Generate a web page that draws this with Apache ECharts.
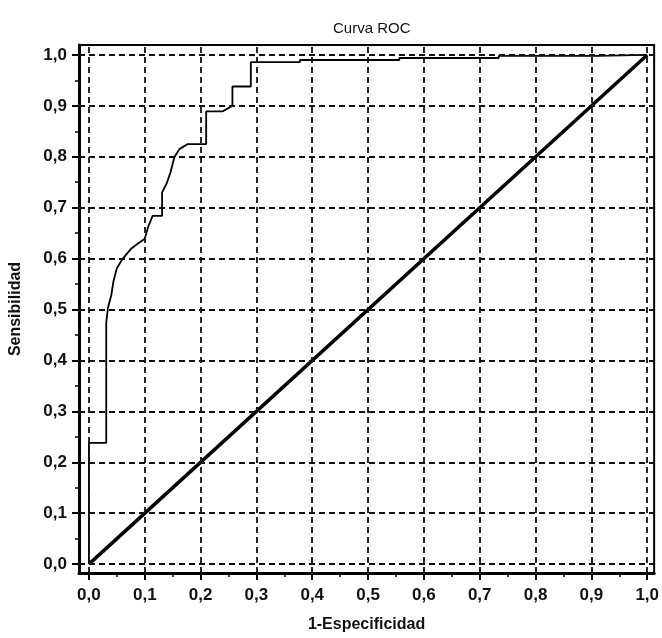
<!DOCTYPE html>
<html>
<head>
<meta charset="utf-8">
<script src="https://cdn.jsdelivr.net/npm/echarts@6/dist/echarts.min.js"></script>
<style>
  html, body { margin: 0; padding: 0; background: #fff; }
  #chart { width: 662px; height: 638px; }
</style>
</head>
<body>
<div id="chart"></div>
<script>
const chart = echarts.init(document.getElementById('chart'));

// ROC-Kurve (1-Spezifität, Sensitivität)
const fpr = [0, 0, 0.031, 0.031, 0.034, 0.034, 0.040, 0.044, 0.050, 0.060,
             0.076, 0.086, 0.100, 0.106, 0.114, 0.131, 0.131, 0.139, 0.146, 0.153,
             0.162, 0.177, 0.210, 0.210, 0.239, 0.257, 0.257, 0.290, 0.290, 0.378,
             0.378, 0.556, 0.556, 0.734, 0.734, 0.911, 0.911, 1.0];
const tpr = [0, 0.238, 0.238, 0.474, 0.474, 0.503, 0.528, 0.556, 0.581, 0.599,
             0.620, 0.628, 0.639, 0.662, 0.684, 0.684, 0.730, 0.747, 0.769, 0.799,
             0.815, 0.825, 0.825, 0.889, 0.889, 0.900, 0.938, 0.938, 0.986, 0.986,
             0.990, 0.990, 0.994, 0.994, 0.998, 0.998, 1.0, 1.0];

const diagX = [0, 1];
const diagY = [0, 1];

const TICKS = [0, 0.1, 0.2, 0.3, 0.4, 0.5, 0.6, 0.7, 0.8, 0.9, 1.0];
const MINOR = [0.05, 0.15, 0.25, 0.35, 0.45, 0.55, 0.65, 0.75, 0.85, 0.95];

const X_MIN = -0.0178, X_MAX = 1.0124;
const Y_MIN = -0.0175, Y_MAX = 1.0195;

const FONT = 'Liberation Sans, Arial, sans-serif';
const fmt = v => v.toFixed(1).replace('.', ',');

const labelStyle = { color: '#111', fontSize: 17, fontWeight: 'bold', fontFamily: FONT };
const nameStyle  = { color: '#111', fontSize: 16, fontWeight: 'bold', fontFamily: FONT };

chart.setOption({
    backgroundColor: '#fff',
    animation: false,
    title: {
        text: 'Curva ROC',
        left: 328, top: 16,
        textStyle: { color: '#111', fontSize: 15, fontWeight: 'normal', fontFamily: FONT }
    },
    grid: {
        left: 77, top: 45, right: 5, bottom: 61,
        show: true, borderColor: '#000', borderWidth: 2, backgroundColor: '#fff'
    },
    xAxis: [
        {
            type: 'value', min: X_MIN, max: X_MAX, position: 'bottom',
            name: '1-Especificidad', nameLocation: 'middle', nameGap: 44,
            nameTextStyle: nameStyle,
            axisLine: { show: true, onZero: false, lineStyle: { color: '#000', width: 3 } },
            axisTick: { show: true, customValues: TICKS, length: 7, lineStyle: { color: '#000', width: 2 } },
            axisLabel: { customValues: TICKS, formatter: fmt, margin: 14, ...labelStyle },
            splitLine: { show: false }
        },
        {
            type: 'value', min: X_MIN, max: X_MAX, position: 'bottom',
            axisLine: { show: false, onZero: false },
            axisTick: { show: true, customValues: MINOR, length: 4, lineStyle: { color: '#000', width: 1.5 } },
            axisLabel: { show: false },
            splitLine: { show: false }
        }
    ],
    yAxis: [
        {
            type: 'value', min: Y_MIN, max: Y_MAX, position: 'left',
            name: 'Sensibilidad', nameLocation: 'middle', nameGap: 55,
            nameTextStyle: nameStyle,
            axisLine: { show: true, onZero: false, lineStyle: { color: '#000', width: 3 } },
            axisTick: { show: true, customValues: TICKS, length: 7, lineStyle: { color: '#000', width: 2 } },
            axisLabel: { customValues: TICKS, formatter: fmt, margin: 12, ...labelStyle },
            splitLine: { show: false }
        },
        {
            type: 'value', min: Y_MIN, max: Y_MAX, position: 'left',
            axisLine: { show: false, onZero: false },
            axisTick: { show: true, customValues: MINOR, length: 4, lineStyle: { color: '#000', width: 1.5 } },
            axisLabel: { show: false },
            splitLine: { show: false }
        }
    ],
    series: [
        {
            // Gitterlinien (gestrichelt)
            type: 'line', data: [], silent: true,
            markLine: {
                silent: true, symbol: 'none', label: { show: false }, animation: false,
                lineStyle: { color: '#111', width: 1.8, type: [6, 4] },
                data: [
                    ...TICKS.map(v => ({ xAxis: v })),
                    ...TICKS.map(v => ({ yAxis: v }))
                ]
            }
        },
        {
            name: 'Diagonal', type: 'line', symbol: 'none',
            data: diagX.map((x, i) => [x, diagY[i]]),
            lineStyle: { color: '#000', width: 3.5 }
        },
        {
            name: 'ROC', type: 'line', symbol: 'none',
            data: fpr.map((x, i) => [x, tpr[i]]),
            lineStyle: { color: '#000', width: 1.8 }
        }
    ]
});
</script>
</body>
</html>
